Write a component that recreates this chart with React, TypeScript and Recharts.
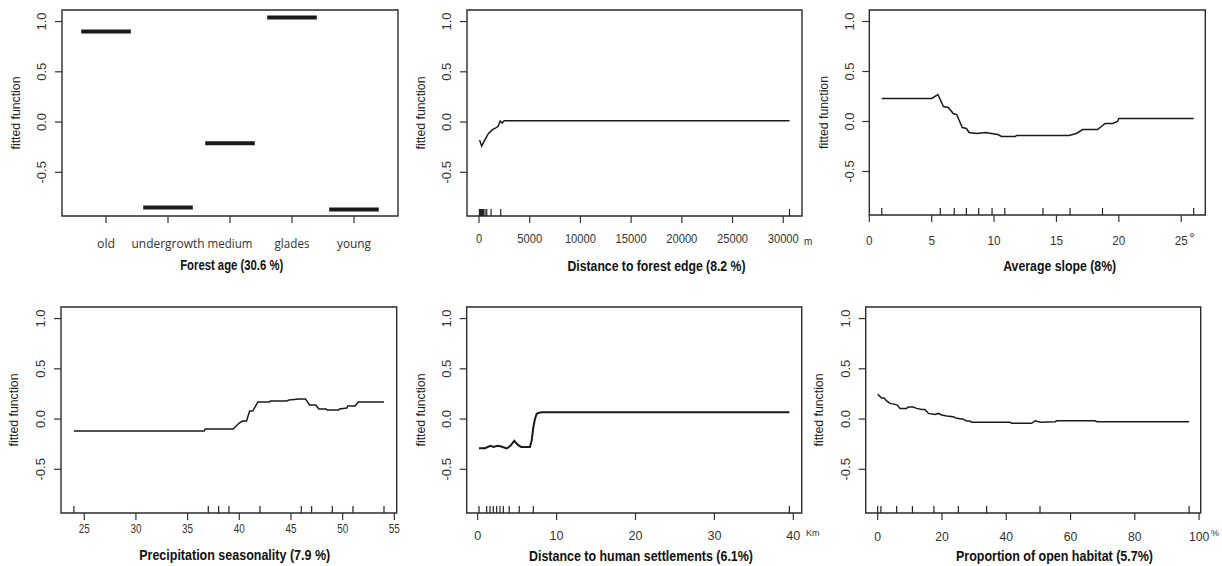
import React from 'react';
import { ComposedChart, Line, XAxis, YAxis, ReferenceArea, ReferenceLine } from 'recharts';

const Y_MIN = -0.935;
const Y_MAX = 1.115;
const Y_TICKS = [-0.5, 0, 0.5, 1];

// Panel 1: Forest age (categorical)
const ageCategories = ['old', 'undergrowth', 'medium', 'glades', 'young'];
const ageEffect = [0.9, -0.85, -0.21, 1.04, -0.87];
const ageTicks = [1, 2, 3, 4, 5];

// Panel 2: Distance to forest edge (m)
const edgeX = [60, 263, 590, 920, 1315, 1620, 1890, 2090, 2290, 2480, 30620];
const edgeY = [-0.18, -0.24, -0.175, -0.116, -0.076, -0.06, -0.043, 0.01, -0.01, 0.012, 0.012];
const edgeRug = [40, 100, 160, 220, 280, 340, 400, 430, 595, 760, 1190, 2145, 30620];
const edgeTicks = [0, 5000, 10000, 15000, 20000, 25000, 30000];

// Panel 3: Average slope (degrees)
const slopeX = [1, 5, 5.5, 5.94, 6.33, 6.73, 7.0, 7.46, 7.78, 8.0, 8.6, 9.3, 9.8, 10.3, 10.6, 11.7, 11.8, 16.0, 16.6, 17.1, 18.3, 18.9, 19.5, 19.9, 20.0, 26];
const slopeY = [0.23, 0.23, 0.27, 0.15, 0.14, 0.08, 0.07, -0.06, -0.07, -0.11, -0.12, -0.11, -0.12, -0.13, -0.15, -0.15, -0.14, -0.14, -0.12, -0.08, -0.08, -0.02, -0.02, 0.0, 0.03, 0.03];
const slopeRug = [1.0, 5.69, 6.81, 7.78, 8.77, 9.84, 10.86, 13.92, 16.09, 18.69, 26];
const slopeTicks = [0, 5, 10, 15, 20, 25];

// Panel 4: Precipitation seasonality
const precipX = [24, 36.6, 36.7, 39.4, 40, 40.3, 40.7, 41.0, 41.3, 41.8, 42.9, 43, 44.6, 44.8, 45.8, 46.4, 46.8, 47.4, 47.7, 48.4, 48.5, 49.6, 49.7, 50.4, 50.5, 51.2, 51.5, 54];
const precipY = [-0.12, -0.12, -0.1, -0.1, -0.04, -0.02, -0.02, 0.08, 0.08, 0.17, 0.17, 0.18, 0.18, 0.19, 0.2, 0.2, 0.14, 0.14, 0.1, 0.1, 0.09, 0.09, 0.1, 0.11, 0.13, 0.13, 0.17, 0.17];
const precipRug = [24, 37, 38, 39, 42, 46, 47, 49, 51, 54];
const precipTicks = [25, 30, 35, 40, 45, 50, 55];

// Panel 5: Distance to human settlements (Km)
const settleX = [0.17, 0.93, 1.6, 2.0, 2.5, 3.0, 3.67, 4.15, 4.64, 5.1, 5.5, 6.62, 6.84, 7.05, 7.26, 7.47, 7.68, 8.1, 39.5];
const settleY = [-0.29, -0.29, -0.267, -0.277, -0.267, -0.273, -0.293, -0.267, -0.217, -0.257, -0.277, -0.277, -0.217, -0.083, -0.0, 0.05, 0.06, 0.067, 0.067];
const settleRug = [0.17, 1.14, 1.56, 1.98, 2.41, 2.83, 3.25, 4.0, 5.27, 7.05, 39.5];
const settleTicks = [0, 10, 20, 30, 40];

// Panel 6: Proportion of open habitat (%)
const openX = [0, 1.24, 1.97, 2.8, 3.84, 5.4, 6.1, 6.95, 9.0, 9.5, 11.1, 12.1, 13.7, 14.7, 15.8, 17.8, 18.9, 19.9, 21.5, 23.5, 24.6, 26.7, 27.7, 28.7, 29.3, 41.2, 41.7, 47.9, 49.0, 50.0, 50.7, 55.2, 55.7, 67.6, 68.2, 96.9];
const openY = [0.245, 0.21, 0.21, 0.18, 0.156, 0.146, 0.139, 0.106, 0.106, 0.12, 0.12, 0.106, 0.096, 0.096, 0.056, 0.046, 0.056, 0.04, 0.03, 0.023, 0.007, -0.003, -0.02, -0.02, -0.033, -0.033, -0.043, -0.043, -0.017, -0.026, -0.033, -0.026, -0.017, -0.017, -0.026, -0.026];
const openRug = [0, 1.0, 5.9, 10.8, 17.5, 25.1, 33.9, 50.5, 96.9];
const openTicks = [0, 20, 40, 60, 80, 100];

const zip = (xs: number[], ys: number[]) => xs.map((x, i) => ({ x, y: ys[i] }));

const SANS = "'Liberation Sans', Arial, sans-serif";

type Box = { l: number; t: number; r: number; b: number };
type Cfg = {
  left: number; top: number; width: number; height: number;
  box: Box;
  xDomain: [number, number];
  xTicks: number[];
  fmt: (v: number) => string;
  tickY: number;
  charW?: number;
  labelW?: (v: number) => number;
  tickFont?: string;
  tickSize?: number;
  series: { x: number; y: number }[][];
  seriesWidth: number;
  rug: number[];
  title: string; titleX: number; titleY: number; titleW: number;
  yTitleX: number;
  unit?: { text: string; x: number; y: number; size: number };
};

const ageLabelWidths = [18, 73, 45, 35, 34];

function Panel({ cfg }: { cfg: Cfg }) {
  const { box } = cfg;
  const xTick = (props: any) => {
    const { x, payload } = props;
    const label = cfg.fmt(payload.value);
    const tl = cfg.labelW ? cfg.labelW(payload.value) : cfg.charW ? label.length * cfg.charW : undefined;
    return (
      <text
        x={x}
        y={cfg.tickY}
        textAnchor="middle"
        dominantBaseline="central"
        fontSize={cfg.tickSize ?? 13}
        fontFamily={cfg.tickFont ?? SANS}
        fill="#333"
        textLength={tl}
        lengthAdjust="spacingAndGlyphs"
      >
        {label}
      </text>
    );
  };
  const yTick = (props: any) => {
    const { y, payload } = props;
    const cx = box.l - 20;
    return (
      <text
        x={cx}
        y={y}
        transform={`rotate(-90 ${cx} ${y})`}
        textAnchor="middle"
        dominantBaseline="central"
        fontSize={13}
        fontFamily={SANS}
        fill="#333"
      >
        {Number(payload.value).toFixed(1)}
      </text>
    );
  };
  const xTitle = () => (
    <g>
      <text
        x={cfg.titleX}
        y={cfg.titleY}
        textAnchor="middle"
        dominantBaseline="central"
        fontSize={15}
        fontWeight="bold"
        fontFamily={SANS}
        fill="#111"
        textLength={cfg.titleW}
        lengthAdjust="spacingAndGlyphs"
      >
        {cfg.title}
      </text>
      {cfg.unit ? (
        <text
          x={cfg.unit.x}
          y={cfg.unit.y}
          textAnchor="start"
          dominantBaseline="central"
          fontSize={cfg.unit.size}
          fontFamily={SANS}
          fill="#333"
        >
          {cfg.unit.text}
        </text>
      ) : null}
    </g>
  );
  const yTitle = () => {
    const cy = (box.t + box.b) / 2;
    return (
      <text
        x={cfg.yTitleX}
        y={cy}
        transform={`rotate(-90 ${cfg.yTitleX} ${cy})`}
        textAnchor="middle"
        dominantBaseline="central"
        fontSize={13.5}
        fontFamily={SANS}
        fill="#222"
        textLength={73}
        lengthAdjust="spacingAndGlyphs"
      >
        fitted function
      </text>
    );
  };
  return (
    <div style={{ position: 'absolute', left: cfg.left, top: cfg.top, width: cfg.width, height: cfg.height }}>
      <ComposedChart
        width={cfg.width}
        height={cfg.height}
        margin={{ top: box.t, right: cfg.width - box.r, bottom: 0, left: 0 }}
      >
        <XAxis
          type="number"
          dataKey="x"
          domain={cfg.xDomain}
          ticks={cfg.xTicks}
          interval={0}
          allowDataOverflow
          height={cfg.height - box.b}
          axisLine={false}
          tickLine={{ stroke: '#333', strokeWidth: 1.2 }}
          tickSize={7}
          tick={xTick}
          label={{ content: xTitle }}
        />
        <YAxis
          type="number"
          domain={[Y_MIN, Y_MAX]}
          ticks={Y_TICKS}
          interval={0}
          allowDataOverflow
          width={box.l}
          axisLine={false}
          tickLine={{ stroke: '#333', strokeWidth: 1.2 }}
          tickSize={7}
          tick={yTick}
          label={{ content: yTitle }}
        />
        <ReferenceArea
          x1={cfg.xDomain[0]}
          x2={cfg.xDomain[1]}
          y1={Y_MIN}
          y2={Y_MAX}
          fill="none"
          fillOpacity={0}
          stroke="#2b2b2b"
          strokeWidth={1.4}
          strokeOpacity={1}
          ifOverflow="visible"
        />
        {cfg.rug.map((r, i) => (
          <ReferenceLine
            key={'rug' + i}
            segment={[{ x: r, y: Y_MIN }, { x: r, y: Y_MIN + 0.07 }]}
            stroke="#222"
            strokeWidth={1.2}
            ifOverflow="visible"
          />
        ))}
        {cfg.series.map((d, i) => (
          <Line
            key={'s' + i}
            data={d}
            dataKey="y"
            type="linear"
            stroke="#1a1a1a"
            strokeWidth={cfg.seriesWidth}
            dot={false}
            activeDot={false}
            isAnimationActive={false}
          />
        ))}
      </ComposedChart>
    </div>
  );
}

const panels: Cfg[] = [
  {
    left: 0, top: 0, width: 405, height: 283,
    box: { l: 62, t: 10, r: 398, b: 216 },
    xDomain: [0.29, 5.71], xTicks: ageTicks,
    fmt: (v) => ageCategories[Math.round(v) - 1],
    labelW: (v) => ageLabelWidths[Math.round(v) - 1],
    tickY: 243, tickFont: "'Open Sans', 'Noto Sans', sans-serif", tickSize: 12.5,
    series: ageCategories.map((_, i) => [
      { x: ageTicks[i] - 0.4, y: ageEffect[i] },
      { x: ageTicks[i] + 0.4, y: ageEffect[i] },
    ]),
    seriesWidth: 4,
    rug: [],
    title: 'Forest age (30.6 %)', titleX: 231.7, titleY: 264, titleW: 103,
    yTitleX: 15,
  },
  {
    left: 405, top: 0, width: 420, height: 283,
    box: { l: 62, t: 10, r: 397, b: 216 },
    xDomain: [-1183, 31850], xTicks: edgeTicks, fmt: (v) => String(v),
    tickY: 238, charW: 6.2,
    series: [zip(edgeX, edgeY)], seriesWidth: 1.5,
    rug: edgeRug,
    title: 'Distance to forest edge (8.2 %)', titleX: 251.5, titleY: 265, titleW: 178,
    yTitleX: 15,
    unit: { text: 'm', x: 399, y: 241, size: 10 },
  },
  {
    left: 810, top: 0, width: 412, height: 283,
    box: { l: 59.3, t: 10, r: 395.3, b: 215 },
    xDomain: [0, 26.93], xTicks: slopeTicks, fmt: (v) => String(v),
    tickY: 240, charW: 6.5,
    series: [zip(slopeX, slopeY)], seriesWidth: 1.5,
    rug: slopeRug,
    title: 'Average slope (8%)', titleX: 249.7, titleY: 265, titleW: 113,
    yTitleX: 13.3,
    unit: { text: '°', x: 379, y: 237, size: 15 },
  },
  {
    left: 0, top: 283, width: 405, height: 283,
    box: { l: 61, t: 24, r: 396.7, b: 230 },
    xDomain: [22.75, 55.23], xTicks: precipTicks, fmt: (v) => String(v),
    tickY: 245, charW: 5.5,
    series: [zip(precipX, precipY)], seriesWidth: 1.5,
    rug: precipRug,
    title: 'Precipitation seasonality (7.9 %)', titleX: 234.7, titleY: 271.7, titleW: 191,
    yTitleX: 13.3,
  },
  {
    left: 405, top: 283, width: 425, height: 283,
    box: { l: 61.7, t: 24, r: 396.7, b: 230 },
    xDomain: [-1.39, 41.06], xTicks: settleTicks, fmt: (v) => String(v),
    tickY: 252, charW: 7,
    series: [zip(settleX, settleY)], seriesWidth: 2,
    rug: settleRug,
    title: 'Distance to human settlements (6.1%)', titleX: 236, titleY: 272, titleW: 224,
    yTitleX: 15,
    unit: { text: 'Km', x: 401, y: 250, size: 9 },
  },
  {
    left: 810, top: 283, width: 412, height: 283,
    box: { l: 55.7, t: 24, r: 390.7, b: 230 },
    xDomain: [-3.73, 100.5], xTicks: openTicks, fmt: (v) => String(v),
    tickY: 253, charW: 6.8,
    series: [zip(openX, openY)], seriesWidth: 1.5,
    rug: openRug,
    title: 'Proportion of open habitat (5.7%)', titleX: 244.5, titleY: 272, titleW: 197,
    yTitleX: 8.3,
    unit: { text: '%', x: 401, y: 250, size: 9 },
  },
];

export default function App() {
  return (
    <div style={{ position: 'absolute', left: 0, top: 0, width: 1222, height: 566, background: '#fff', overflow: 'hidden' }}>
      {panels.map((p, i) => (
        <Panel key={i} cfg={p} />
      ))}
    </div>
  );
}
